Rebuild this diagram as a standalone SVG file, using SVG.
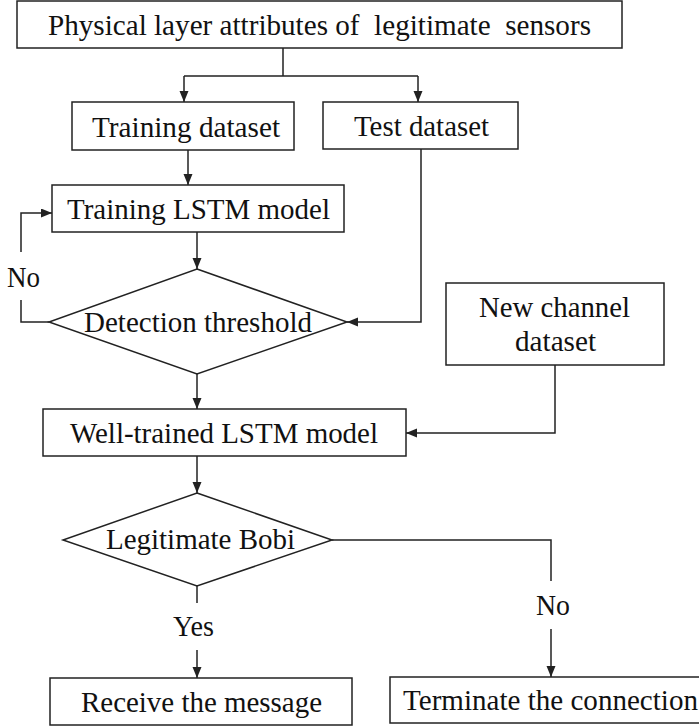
<svg xmlns="http://www.w3.org/2000/svg" width="699" height="726" viewBox="0 0 699 726">
<style>
.box{fill:#fff;stroke:#222;stroke-width:1.5}
.c{fill:none;stroke:#222;stroke-width:1.5}
.a{marker-end:url(#ah)}
</style>
<defs>
<marker id="ah" markerUnits="userSpaceOnUse" markerWidth="12" markerHeight="10" refX="11" refY="4.5" orient="auto">
<path d="M0,0 L11,4.5 L0,9 z" fill="#222"/>
</marker>
</defs>
<rect width="699" height="726" fill="#fff"/>
<g id="connectors">
<path class="c" d="M283,48 V76 M184,76 H418"/>
<path class="c a" d="M184,76 V102"/>
<path class="c a" d="M418,76 V102"/>
<path class="c a" d="M188,150 V185"/>
<path class="c a" d="M197,232 V269"/>
<path class="c a" d="M421,149 V322 H347"/>
<path class="c" d="M49,322 H21 V300"/>
<path class="c a" d="M21,252 V213 H52"/>
<path class="c a" d="M197,374 V409"/>
<path class="c a" d="M555,365 V433 H406"/>
<path class="c a" d="M197,456 V493"/>
<path class="c" d="M197,586 V603"/>
<path class="c a" d="M197,650 V678"/>
<path class="c" d="M332,540 H551 V581"/>
<path class="c a" d="M551,629 V677"/>
<text font-family="Liberation Serif" font-size="29" fill="#111" x="7" y="287" textLength="33" lengthAdjust="spacingAndGlyphs">No</text>
<text font-family="Liberation Serif" font-size="29" fill="#111" x="173" y="636" textLength="41" lengthAdjust="spacingAndGlyphs">Yes</text>
<text font-family="Liberation Serif" font-size="29" fill="#111" x="536" y="615" textLength="34" lengthAdjust="spacingAndGlyphs">No</text>
</g>
<g id="n1"><rect class="box" x="17" y="1" width="605" height="47"/>
<text font-family="Liberation Serif" font-size="29" fill="#111" xml:space="preserve" x="48" y="35" textLength="543" lengthAdjust="spacingAndGlyphs">Physical layer attributes of  legitimate  sensors</text></g>
<g id="n2"><rect class="box" x="72" y="102" width="222" height="48"/>
<text font-family="Liberation Serif" font-size="29" fill="#111" x="92" y="137" textLength="188" lengthAdjust="spacingAndGlyphs">Training dataset</text></g>
<g id="n3"><rect class="box" x="323" y="102" width="195" height="47"/>
<text font-family="Liberation Serif" font-size="29" fill="#111" x="354" y="136" textLength="135" lengthAdjust="spacingAndGlyphs">Test dataset</text></g>
<g id="n4"><rect class="box" x="52" y="185" width="292" height="47"/>
<text font-family="Liberation Serif" font-size="29" fill="#111" x="67" y="219" textLength="263" lengthAdjust="spacingAndGlyphs">Training LSTM model</text></g>
<g id="n5"><path class="box" d="M197,269 L347,322 L197,374 L49,322 Z"/>
<text font-family="Liberation Serif" font-size="29" fill="#111" x="84" y="332" textLength="228" lengthAdjust="spacingAndGlyphs">Detection threshold</text></g>
<g id="n6"><rect class="box" x="446" y="283" width="218" height="82"/>
<text font-family="Liberation Serif" font-size="29" fill="#111" x="479" y="317" textLength="151" lengthAdjust="spacingAndGlyphs">New channel</text>
<text font-family="Liberation Serif" font-size="29" fill="#111" x="515" y="351" textLength="81" lengthAdjust="spacingAndGlyphs">dataset</text></g>
<g id="n7"><rect class="box" x="43" y="409" width="363" height="47"/>
<text font-family="Liberation Serif" font-size="29" fill="#111" x="70" y="443" textLength="308" lengthAdjust="spacingAndGlyphs">Well-trained LSTM model</text></g>
<g id="n8"><path class="box" d="M197,493 L332,540 L197,586 L63,540 Z"/>
<text font-family="Liberation Serif" font-size="29" fill="#111" x="106" y="549" textLength="189" lengthAdjust="spacingAndGlyphs">Legitimate Bobi</text></g>
<g id="n9"><rect class="box" x="50" y="678" width="302" height="47"/>
<text font-family="Liberation Serif" font-size="29" fill="#111" x="81" y="712" textLength="241" lengthAdjust="spacingAndGlyphs">Receive the message</text></g>
<g id="n10"><rect class="box" x="390" y="677" width="312" height="46"/>
<text font-family="Liberation Serif" font-size="29" fill="#111" x="403" y="710" textLength="295" lengthAdjust="spacingAndGlyphs">Terminate the connection</text></g>
</svg>
